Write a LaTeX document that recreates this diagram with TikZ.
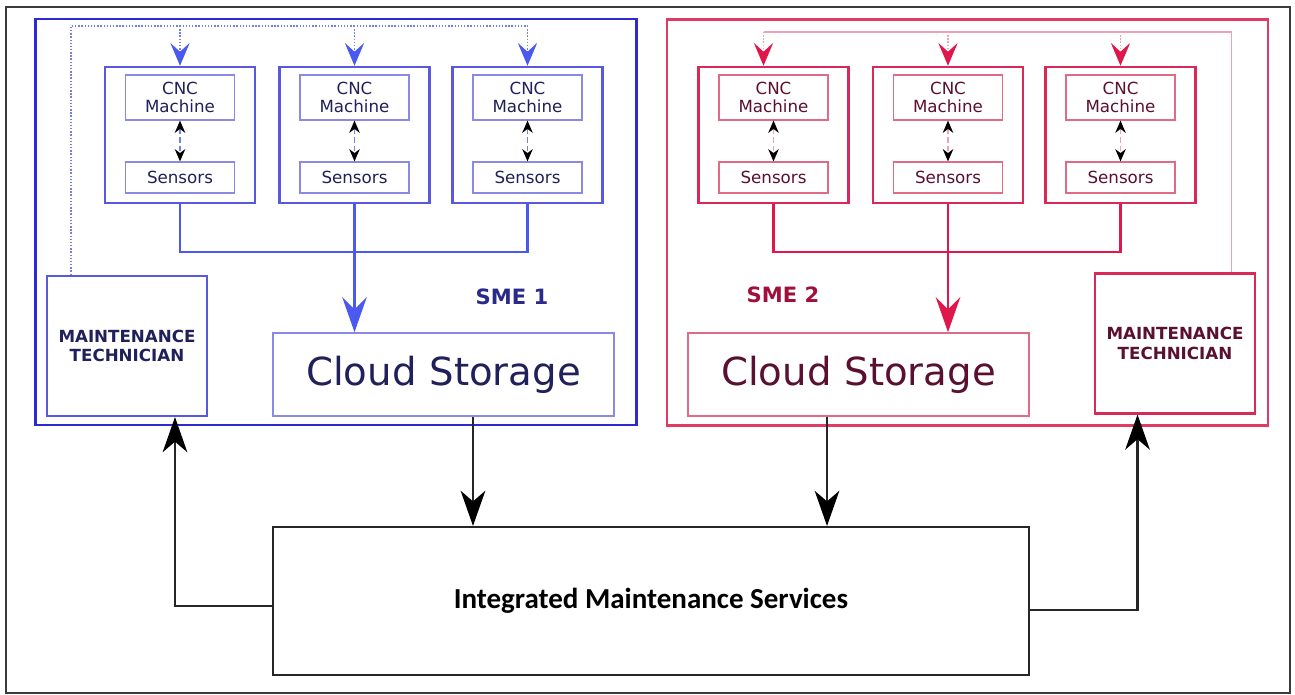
\documentclass[tikz,border=0pt]{standalone}
\usepackage{fontspec}
\setmainfont{DejaVu Sans}
\newfontfamily\imsfont{Carlito}
% text colours carried by the fonts themselves
\newfontfamily\smeAfont[Color=20205A]{DejaVu Sans}
\newfontfamily\smeBfont[Color=5A1030]{DejaVu Sans}
\newfontfamily\smeAlabelfont[Color=2A2A8A]{DejaVu Sans}
\newfontfamily\smeBlabelfont[Color=A0103A]{DejaVu Sans}
\usetikzlibrary{arrows.meta,positioning,calc}

% SME 1 (blue) and SME 2 (red) palettes
\definecolor{smeAframe}{rgb}{0.17,0.17,0.82}
\definecolor{smeAunit}{rgb}{0.35,0.35,0.88}
\definecolor{smeAlt}{rgb}{0.54,0.54,0.90}
\definecolor{smeAarrow}{rgb}{0.29,0.35,0.94}
\definecolor{smeAfb}{rgb}{0.44,0.50,0.94}
\definecolor{smeBframe}{rgb}{0.88,0.23,0.39}
\definecolor{smeBunit}{rgb}{0.85,0.16,0.35}
\definecolor{smeBlt}{rgb}{0.88,0.42,0.53}
\definecolor{smeBarrow}{rgb}{0.88,0.09,0.29}
\definecolor{smeBfb}{rgb}{0.94,0.63,0.71}
\definecolor{pageline}{rgb}{0.23,0.23,0.23}

\begin{document}
\begin{tikzpicture}[
    x=0.02cm, y=-0.02cm,
    frame/.style={draw=#1frame, line width=1.6pt, minimum width=12.02cm, minimum height=8.12cm},
    unitbox/.style={draw=#1unit, fill=white, line width=1.4pt, minimum width=3.0cm, minimum height=2.72cm},
    cncbox/.style={draw=#1lt, line width=0.7pt, minimum width=2.18cm, minimum height=0.9cm, inner sep=1pt, align=center, font=\csname #1font\endcsname\fontsize{9.5}{10.5}\selectfont},
    sensbox/.style={draw=#1lt, line width=0.7pt, minimum width=2.18cm, minimum height=0.62cm, inner sep=1pt, font=\csname #1font\endcsname\fontsize{9.5}{10.5}\selectfont},
    cloudbox/.style={draw=#1lt, line width=0.9pt, minimum width=6.82cm, minimum height=1.66cm, font=\csname #1font\endcsname\fontsize{22}{26}\selectfont},
    techbox/.style={draw=#1unit, fill=white, line width=1.2pt, minimum width=3.2cm, minimum height=2.8cm, align=center, font=\csname #1font\endcsname\fontsize{9.5}{11.3}\selectfont\bfseries},
    smelabel/.style={font=\csname #1labelfont\endcsname\fontsize{12}{14}\selectfont\bfseries},
    pair/.style={draw=#1fb, densely dashed, line width=0.6pt, {Stealth[length=7pt,width=6pt,color=black]}-{Stealth[length=7pt,width=6pt,color=black]}},
    feedback/.style={draw=#1fb, line width=0.8pt, densely dotted},
    fbtip/.style={draw=#1fb, line width=0.8pt, densely dotted, -{Stealth[length=13pt,width=11pt,inset=5pt,color=#1arrow]}},
    bus/.style={draw=#1arrow, line width=1.4pt},
    busarrow/.style={draw=#1arrow, line width=1.4pt, -{Stealth[length=20pt,width=14pt,inset=7pt]}},
    link/.style={draw=black!85, line width=1.3pt, -{Stealth[length=20pt,width=14pt,inset=6pt,color=black]}}
]
\useasboundingbox (0,0) rectangle (1295,695);

\node[draw=pageline, line width=1.2pt, minimum width=25.68cm, minimum height=13.72cm] (page) at (648,350) {};

% SME 1
\node[frame=smeA] (sme1) at (336,222) {};
\node[unitbox=smeA] (u1) at (180,135) {};
\node[unitbox=smeA] (u2) at (354.5,135) {};
\node[unitbox=smeA] (u3) at (527.5,135) {};
\node[techbox=smeA] (t1) at (127,346) {MAINTENANCE\\TECHNICIAN};
\node[cncbox=smeA] (c1) at ([yshift=0.75cm]u1.center) {CNC\\Machine};
\node[sensbox=smeA] (s1) at ([yshift=-0.85cm]u1.center) {Sensors};
\node[cncbox=smeA] (c2) at ([yshift=0.75cm]u2.center) {CNC\\Machine};
\node[sensbox=smeA] (s2) at ([yshift=-0.85cm]u2.center) {Sensors};
\node[cncbox=smeA] (c3) at ([yshift=0.75cm]u3.center) {CNC\\Machine};
\node[sensbox=smeA] (s3) at ([yshift=-0.85cm]u3.center) {Sensors};
\node[cloudbox=smeA] (cl1) at (443.5,374.5) {Cloud\,\,Storage};
\node[smelabel=smeA] (lab1) at (512,297) {SME 1};

% SME 2
\node[frame=smeB] (sme2) at (967.5,222.5) {};
\node[unitbox=smeB] (u4) at (773.5,135) {};
\node[unitbox=smeB] (u5) at (948,135) {};
\node[unitbox=smeB] (u6) at (1120.5,135) {};
\node[techbox=smeB] (t2) at (1175,343.5) {MAINTENANCE\\TECHNICIAN};
\node[cncbox=smeB] (c4) at ([yshift=0.75cm]u4.center) {CNC\\Machine};
\node[sensbox=smeB] (s4) at ([yshift=-0.85cm]u4.center) {Sensors};
\node[cncbox=smeB] (c5) at ([yshift=0.75cm]u5.center) {CNC\\Machine};
\node[sensbox=smeB] (s5) at ([yshift=-0.85cm]u5.center) {Sensors};
\node[cncbox=smeB] (c6) at ([yshift=0.75cm]u6.center) {CNC\\Machine};
\node[sensbox=smeB] (s6) at ([yshift=-0.85cm]u6.center) {Sensors};
\node[cloudbox=smeB] (cl2) at (858.5,374.5) {Cloud\,\,Storage};
\node[smelabel=smeB] (lab2) at (783,295) {SME 2};

\node[draw=black!85, line width=1.2pt, minimum width=15.12cm, minimum height=2.96cm, font=\imsfont\bfseries\fontsize{16.5}{19}\selectfont] (ims) at (651,601) {Integrated Maintenance Services};

% machine <-> sensors
\draw[pair=smeA] (c1.south) -- (s1.north);
\draw[pair=smeA] (c2.south) -- (s2.north);
\draw[pair=smeA] (c3.south) -- (s3.north);
\draw[pair=smeB] (c4.south) -- (s4.north);
\draw[pair=smeB] (c5.south) -- (s5.north);
\draw[pair=smeB] (c6.south) -- (s6.north);

% technician feedback to the machines
\coordinate (fbA) at (0,26);
\draw[feedback=smeA] ([xshift=-1.12cm]t1.north) |- (u3.north |- fbA);
\draw[fbtip=smeA] (u1.north |- fbA) -- (u1.north);
\draw[fbtip=smeA] (u2.north |- fbA) -- (u2.north);
\draw[fbtip=smeA] (u3.north |- fbA) -- (u3.north);
\coordinate (fbB) at (0,32);
\draw[draw=smeBfb, line width=0.7pt] ([xshift=1.13cm]t2.north) |- ([xshift=-0.2cm]u4.north |- fbB);
\draw[fbtip=smeB] ([xshift=-0.2cm]u4.north |- fbB) -- ([xshift=-0.2cm]u4.north);
\draw[fbtip=smeB] (u5.north |- fbB) -- (u5.north);
\draw[fbtip=smeB] (u6.north |- fbB) -- (u6.north);

% sensor data to cloud
\coordinate (busA) at (0,252);
\draw[bus=smeA] (u1.south) |- (u3.south |- busA) -- (u3.south);
\draw[busarrow=smeA] (u2.south) -- (u2.south |- cl1.north);
\draw[bus=smeB] (u4.south) |- (u6.south |- busA) -- (u6.south);
\draw[busarrow=smeB] (u5.south) -- (u5.south |- cl2.north);

% integrated services
\draw[link] ([xshift=0.59cm]cl1.south) -- ([xshift=0.59cm]cl1.south |- ims.north);
\draw[link] ([xshift=-0.63cm]cl2.south) -- ([xshift=-0.63cm]cl2.south |- ims.north);
\draw[link] ([yshift=-0.1cm]ims.west) -| ([xshift=0.96cm]t1.south);
\draw[link] ([yshift=-0.18cm]ims.east) -| ([xshift=-0.75cm]t2.south);
\end{tikzpicture}
\end{document}
